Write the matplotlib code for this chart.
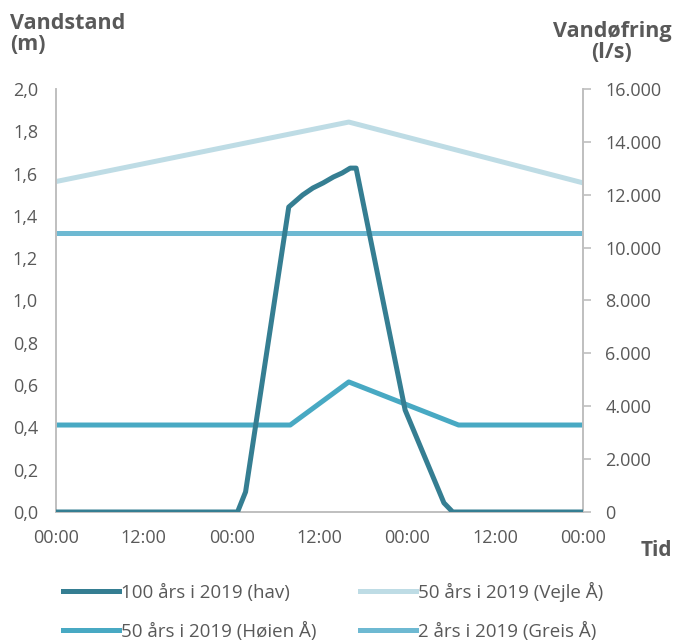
import matplotlib
matplotlib.use("Agg")
import matplotlib.pyplot as plt
from matplotlib.ticker import FixedLocator, FuncFormatter

plt.rcParams['font.family'] = ['Open Sans', 'DejaVu Sans']

# Time axis in hours
hours_ticks = [0, 12, 24, 36, 48, 60, 72]
tick_labels = ["00:00", "12:00", "00:00", "12:00", "00:00", "12:00", "00:00"]

# Water level, sea (m)
hav_t = [0, 24.8, 25.9, 31.8, 33.7, 35.1, 36.5, 37.9, 39.1, 40.2, 41.0, 47.7, 53.0, 54.2, 72]
hav_v = [0, 0, 0.095, 1.442, 1.499, 1.532, 1.556, 1.584, 1.603, 1.626, 1.626, 0.482, 0.043, 0, 0]

# Discharge (l/s)
vejle_t = [0, 40, 72]
vejle_v = [12500, 14750, 12450]

hoeien_t = [0, 32, 40, 55, 72]
hoeien_v = [3290, 3290, 4920, 3290, 3290]

greis_t = [0, 72]
greis_v = [10550, 10550]

c_hav = "#357E92"
c_vejle = "#BEDCE5"
c_hoeien = "#48A9C3"
c_greis = "#6EB9D2"
grey_txt = "#595959"
spine_c = "#BFBFBF"

fig = plt.figure(figsize=(6.75, 6.44), dpi=100)
ax = fig.add_axes([56/675, 1-512/644, (583-56)/675, (512-89)/644])
ax2 = ax.twinx()

lw = 3.6
l1, = ax.plot(hav_t, hav_v, color=c_hav, lw=lw, solid_joinstyle='round', zorder=5,
              label="100 års i 2019 (hav)")
l2, = ax2.plot(vejle_t, vejle_v, color=c_vejle, lw=lw, label="50 års i 2019 (Vejle Å)")
l3, = ax2.plot(hoeien_t, hoeien_v, color=c_hoeien, lw=lw, label="50 års i 2019 (Høien Å)")
l4, = ax2.plot(greis_t, greis_v, color=c_greis, lw=lw, label="2 års i 2019 (Greis Å)")

ax.set_zorder(ax2.get_zorder() + 1)
ax.patch.set_visible(False)

ax.set_xlim(0, 72)
ax.set_ylim(0, 2.0)
ax2.set_ylim(0, 16000)

ax.xaxis.set_major_locator(FixedLocator(hours_ticks))
ax.set_xticklabels(tick_labels)
ax.yaxis.set_major_locator(FixedLocator([i * 0.2 for i in range(11)]))
ax.yaxis.set_major_formatter(FuncFormatter(lambda v, p: f"{v:.1f}".replace(".", ",")))
ax2.yaxis.set_major_locator(FixedLocator(list(range(0, 16001, 2000))))
ax2.yaxis.set_major_formatter(FuncFormatter(lambda v, p: f"{int(v):,}".replace(",", ".")))

for a in (ax, ax2):
    for s in a.spines.values():
        s.set_color(spine_c)
        s.set_linewidth(1.2)
    a.spines['top'].set_visible(False)

ax.tick_params(axis='x', length=0, pad=12, labelsize=13, labelcolor=grey_txt)
ax.tick_params(axis='y', length=0, pad=13, labelsize=13, labelcolor=grey_txt)
ax2.tick_params(axis='y', length=6, width=1.2, color=spine_c, pad=10,
                labelsize=13, labelcolor=grey_txt)

fig.text(10/675, 1-34/644, "Vandstand\n(m)", ha='left', va='center', fontsize=15.5,
         fontweight='bold', color=grey_txt, linespacing=1.05)
fig.text(612/675, 1-42/644, "Vandøfring\n(l/s)", ha='center', va='center', fontsize=15.5,
         fontweight='bold', color=grey_txt, linespacing=1.05)
fig.text(672/675, 1-551/644, "Tid", ha='right', va='center', fontsize=15,
         fontweight='bold', color=grey_txt)

fig.legend(handles=[l1, l3, l2, l4], ncol=2, loc='upper left',
           bbox_to_anchor=(63/675, 1-582/644), frameon=False, borderpad=0,
           borderaxespad=0, fontsize=13.5, handlelength=3.0, handletextpad=0.1,
           columnspacing=2.3, labelspacing=1.05, labelcolor=grey_txt)

fig.savefig("out.png", dpi=100)
